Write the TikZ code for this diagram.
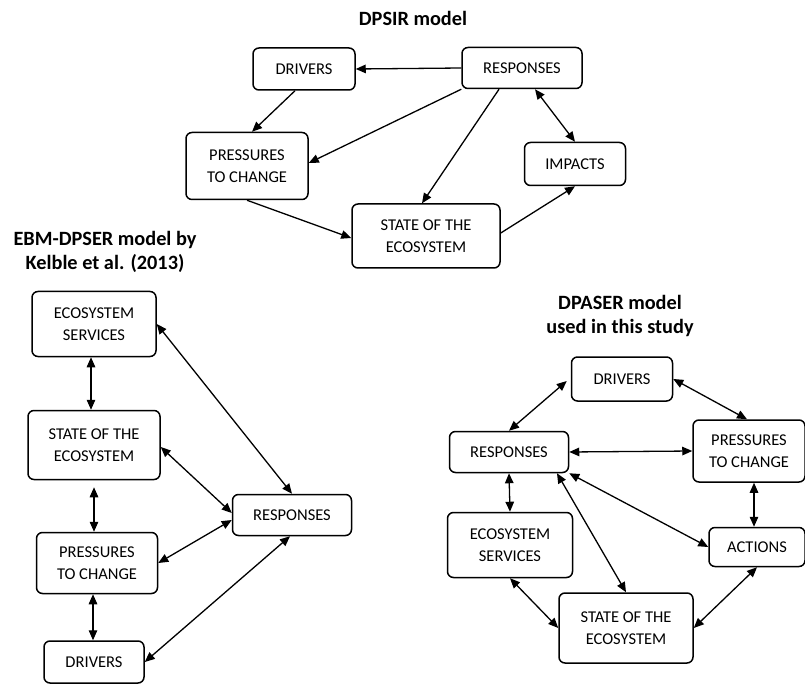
\documentclass[tikz,border=0pt]{standalone}
\usepackage{fontspec}
\setmainfont{Carlito}
\usetikzlibrary{arrows.meta}

\begin{document}
\begin{tikzpicture} [x = 1pt, y = -1pt,
	box/.style = {draw, line width = 1.5pt, rounded corners = 6pt, align = center, inner sep = 0pt,
		font = \fontsize{16.5}{21.5}\selectfont},
	title/.style = {align = center, font = \bfseries\fontsize{20.3}{23.5}\selectfont},
	oneway/.style = {line width = 1.3pt, -{Triangle[length = 10pt, width = 8.5pt]}},
	twoway/.style = {line width = 1.3pt, {Triangle[length = 10pt, width = 8.5pt]}-{Triangle[length = 10pt, width = 8.5pt]}}]
	\useasboundingbox (0,0) rectangle (805,684);

	% DPSIR
	\node [title] (t1) at (413,18) {DPSIR model};
	\node [box, minimum width = 102, minimum height = 42] (d1) at (304,69) {DRIVERS};
	\node [box, minimum width = 120, minimum height = 41] (r1) at (522,68) {RESPONSES};
	\node [box, minimum width = 122, minimum height = 67] (p1) at (247,166) {PRESSURES\\TO CHANGE};
	\node [box, minimum width = 101, minimum height = 43] (i1) at (575,164) {IMPACTS};
	\node [box, minimum width = 148, minimum height = 64] (s1) at (426,236) {STATE OF THE\\ECOSYSTEM};
	\draw [oneway] (r1.west) -- (d1.east);
	\draw [oneway] ([xshift = -9]d1.south) -- ([xshift = 5]p1.north);
	\draw [oneway] (r1.south west) -- ([yshift = 3]p1.east);
	\draw [oneway] ([xshift = -23]r1.south) -- ([xshift = -4]s1.north);
	\draw [twoway] ([xshift = 13]r1.south) -- (i1.north);
	\draw [oneway] (p1.south) -- ([yshift = -2]s1.west);
	\draw [oneway] ([yshift = 3]s1.east) -- (i1.south);

	% EBM-DPSER
	\node [title] (t2) at (105,252) {EBM-DPSER model by\\Kelble et al. (2013)};
	\node [box, minimum width = 124, minimum height = 65] (es2) at (94,324) {ECOSYSTEM\\SERVICES};
	\node [box, minimum width = 132, minimum height = 69] (st2) at (94,445) {STATE OF THE\\ECOSYSTEM};
	\node [box, minimum width = 121, minimum height = 61] (pr2) at (97,563) {PRESSURES\\TO CHANGE};
	\node [box, minimum width = 100, minimum height = 42] (dr2) at (94,662) {DRIVERS};
	\node [box, minimum width = 119, minimum height = 41] (re2) at (292,515) {RESPONSES};
	\draw [twoway] ([xshift = -3]es2.south) -- ([xshift = -3]st2.north);
	\draw [twoway, shorten < = 7pt] (st2.south) -- (pr2.north -| st2.south);
	\draw [twoway] ([xshift = -4]pr2.south) -- ([xshift = -1]dr2.north);
	\draw [twoway] (es2.east) -- (re2.north);
	\draw [twoway] ([yshift = -2]st2.east) -- ([yshift = 2]re2.west);
	\draw [twoway] (pr2.east) -- ([yshift = -5]re2.west);
	\draw [twoway] (dr2.east) -- ([xshift = -2]re2.south);

	% DPASER
	\node [title] (t3) at (620,316) {DPASER model\\used in this study};
	\node [box, minimum width = 101, minimum height = 44] (dr3) at (622,379) {DRIVERS};
	\node [box, minimum width = 112, minimum height = 62] (pc3) at (749,451) {PRESSURES\\TO CHANGE};
	\node [box, minimum width = 119, minimum height = 41] (rs3) at (509,452) {RESPONSES};
	\node [box, minimum width = 125, minimum height = 65] (es3) at (510,545) {ECOSYSTEM\\SERVICES};
	\node [box, minimum width = 96, minimum height = 39] (ac3) at (757,547) {ACTIONS};
	\node [box, minimum width = 134, minimum height = 70] (st3) at (626,628) {STATE OF THE\\ECOSYSTEM};
	\draw [twoway] ([xshift = -4, yshift = -2]dr3.west) -- (rs3.north);
	\draw [twoway] (dr3.east) -- ([xshift = -2]pc3.north);
	\draw [twoway] (rs3.east) -- (pc3.west);
	\draw [twoway] (rs3.south) -- (es3.north);
	\draw [twoway] ([xshift = 48]rs3.south) -- (st3.north);
	\draw [twoway] (rs3.south east) -- (ac3.west);
	\draw [twoway] ([xshift = 5]pc3.south) -- ([xshift = -3]ac3.north);
	\draw [twoway] (es3.south) -- (st3.west);
	\draw [twoway] (ac3.south) -- (st3.east);
\end{tikzpicture}
\end{document}
